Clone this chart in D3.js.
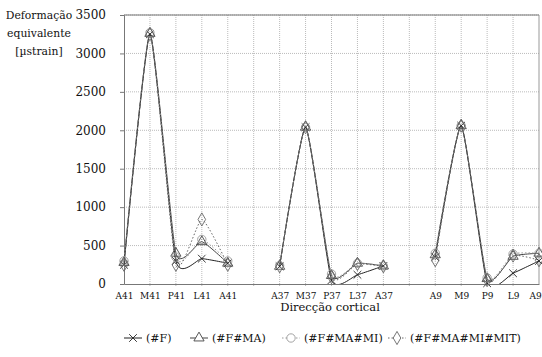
<!DOCTYPE html>
<html>
<head>
<meta charset="utf-8">
<script src="https://cdn.jsdelivr.net/npm/d3@7"></script>
<style>
  body { margin: 0; background: #fff; }
</style>
</head>
<body>
<svg id="chart" width="542" height="357"></svg>
<script>
// category labels (blank ones are the gaps between the three sections)
const categories = ["A41","M41","P41","L41","A41","","A37","M37","P37","L37","A37","","A9","M9","P9","L9","A9"];
const yTicks = [0, 500, 1000, 1500, 2000, 2500, 3000, 3500];

// values in microstrain, null = gap
const valF     = [250, 3250, 300, 330, 270, null, 230, 2040, 50, 120, 235, null, 350, 2060, 10, 140, 300];
const valMA    = [280, 3260, 400, 550, 270, null, 230, 2040, 110, 270, 235, null, 380, 2060, 70, 360, 400];
const valMI    = [300, 3270, 350, 580, 300, null, 240, 2040, 130, 270, 235, null, 400, 2060, 80, 390, 400];
const valMIT   = [250, 3250, 250, 840, 250, null, 230, 2040, 90, 260, 230, null, 310, 2060, 50, 370, 310];
const seriesNames = ["(#F)", "(#F#MA)", "(#F#MA#MI)", "(#F#MA#MI#MIT)"];

const FONT = "'DejaVu Serif', 'Times New Roman', Times, serif";

const series = [
  { name: seriesNames[0], values: valF,   color: "#222", dash: null,  marker: "cross" },
  { name: seriesNames[1], values: valMA,  color: "#444", dash: null,  marker: "triangle" },
  { name: seriesNames[2], values: valMI,  color: "#999", dash: "1.5,2", marker: "circle" },
  { name: seriesNames[3], values: valMIT, color: "#666", dash: "1.5,2", marker: "diamond" }
];

const svg = d3.select("#chart").style("font-family", FONT);
const margin = { top: 15, right: 3, bottom: 73, left: 124 };
const width = 542 - margin.left - margin.right;
const height = 357 - margin.top - margin.bottom;

const idx = d3.range(categories.length);
const x = d3.scalePoint().domain(idx).range([0, width]);
const y = d3.scaleLinear().domain([0, 3500]).range([height, 0]);

svg.append("clipPath").attr("id", "plotclip")
  .append("rect").attr("x", -6).attr("y", -6).attr("width", width + 12).attr("height", height + 6);

const g = svg.append("g").attr("transform", `translate(${margin.left},${margin.top})`);

// grid
g.append("g")
  .selectAll("line")
  .data(yTicks.slice(1))
  .enter().append("line")
  .attr("x1", 0).attr("x2", width)
  .attr("y1", d => y(d)).attr("y2", d => y(d))
  .attr("stroke", "#bbb").attr("stroke-dasharray", "1,1");

g.append("g")
  .selectAll("line")
  .data(idx.slice(1, -1))
  .enter().append("line")
  .attr("x1", d => x(d)).attr("x2", d => x(d))
  .attr("y1", 0).attr("y2", height + 3)
  .attr("stroke", "#bbb").attr("stroke-dasharray", "1,1");

// frame: top and right borders
g.append("line").attr("x1", 0).attr("x2", width).attr("y1", 0).attr("y2", 0)
  .attr("stroke", "#777");
g.append("line").attr("x1", width).attr("x2", width).attr("y1", 0).attr("y2", height)
  .attr("stroke", "#999");

// y axis
const yAxis = g.append("g")
  .call(d3.axisLeft(y).tickValues(yTicks).tickFormat(d3.format("d")).tickSize(4).tickPadding(14));
yAxis.attr("font-family", null);
yAxis.select(".domain").attr("stroke", "#777");
yAxis.selectAll(".tick line").attr("stroke", "#777");
yAxis.selectAll("text").attr("font-size", 12).attr("fill", "#111");

// x axis
const xAxis = g.append("g")
  .attr("transform", `translate(0,${height})`)
  .call(d3.axisBottom(x).tickFormat(i => categories[i]).tickSize(0).tickPadding(9));
xAxis.attr("font-family", null);
xAxis.select(".domain").attr("stroke", "#777");
xAxis.selectAll("text").attr("font-size", 9).attr("fill", "#111")
  .attr("dx", i => i === categories.length - 1 ? -4 : 0);

// lines
const line = d3.line()
  .defined(d => d.v != null)
  .x(d => x(d.i))
  .y(d => y(d.v))
  .curve(d3.curveCardinal.tension(0.5));

function markerPath(type, size) {
  if (type === "cross") return d3.symbol(d3.symbolTimes, size)();
  if (type === "triangle") return d3.symbol(d3.symbolTriangle, size)();
  if (type === "circle") return d3.symbol(d3.symbolCircle, size)();
  return d3.symbol(d3.symbolDiamond, size)();
}
const markerSize = { cross: 40, triangle: 45, circle: 55, diamond: 50 };

const plot = g.append("g").attr("clip-path", "url(#plotclip)");

series.forEach(s => {
  const pts = s.values.map((v, i) => ({ i, v }));
  plot.append("path")
    .datum(pts)
    .attr("fill", "none")
    .attr("stroke", s.color)
    .attr("stroke-width", 1)
    .attr("stroke-dasharray", s.dash)
    .attr("d", line);
});

series.forEach(s => {
  const pts = s.values.map((v, i) => ({ i, v })).filter(d => d.v != null);
  g.append("g")
    .selectAll("path")
    .data(pts)
    .enter().append("path")
    .attr("transform", d => `translate(${x(d.i)},${y(d.v)})`)
    .attr("d", markerPath(s.marker, markerSize[s.marker]))
    .attr("fill", "none")
    .attr("stroke", s.color)
    .attr("stroke-width", 0.9);
});

// axis titles
svg.append("text")
  .attr("x", 330).attr("y", 311)
  .attr("text-anchor", "middle")
  .attr("font-size", 11.5).attr("fill", "#111")
  .text("Direcção cortical");

const yTitle = svg.append("text")
  .attr("text-anchor", "middle")
  .attr("font-size", 10.8).attr("fill", "#111");
["Deformação", "equivalente", "[µstrain]"].forEach((t, i) => {
  yTitle.append("tspan").attr("x", 39).attr("y", 19 + i * 18).text(t);
});

// legend
const legendX = [124, 190, 282, 388];
const legend = svg.append("g").attr("transform", "translate(0,338)");
series.forEach((s, k) => {
  const lg = legend.append("g").attr("transform", `translate(${legendX[k]},0)`);
  lg.append("line").attr("x1", 0).attr("x2", 18).attr("y1", 0).attr("y2", 0)
    .attr("stroke", s.color).attr("stroke-dasharray", s.dash);
  lg.append("path")
    .attr("transform", "translate(9,0)")
    .attr("d", markerPath(s.marker, markerSize[s.marker]))
    .attr("fill", "#fff")
    .attr("stroke", s.color)
    .attr("stroke-width", 0.9);
  lg.append("text")
    .attr("x", 22).attr("y", 4)
    .attr("font-size", 11).attr("fill", "#111")
    .text(s.name);
});
</script>
</body>
</html>
